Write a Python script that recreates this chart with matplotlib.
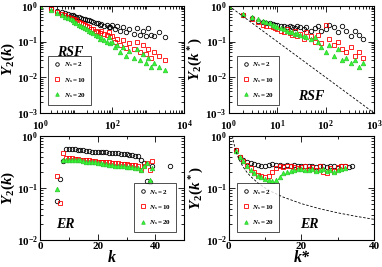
import matplotlib
matplotlib.use("Agg")
import matplotlib.pyplot as plt
from matplotlib.ticker import LogLocator, MultipleLocator, NullFormatter

plt.rcParams["font.family"] = "Liberation Serif"
plt.rcParams["font.weight"] = "bold"
plt.rcParams["mathtext.fontset"] = "custom"
plt.rcParams["mathtext.rm"] = "Liberation Serif:bold"
plt.rcParams["mathtext.it"] = "Liberation Serif:italic:bold"
plt.rcParams["mathtext.bf"] = "Liberation Serif:bold"

# --- RSF, Y2(k) ---
rsf_k = [1, 2, 3, 4, 5, 6, 7, 8, 9, 10, 12, 14, 16, 18, 20, 23, 26, 30, 35, 40,
         45, 50, 60, 70, 80, 90, 100, 120, 140, 170, 200, 250, 300, 400, 500,
         600, 700, 900, 1000, 1200, 1500, 2000, 3000]
rsf_k_n2 = [1.0, 0.85, 0.72, 0.66, 0.62, 0.6, 0.57, 0.55, 0.53, 0.5, 0.48, 0.46,
            0.44, 0.42, 0.41, 0.39, 0.38, 0.36, 0.34, 0.33, 0.3, 0.32, 0.28, 0.3,
            0.26, 0.25, 0.3, 0.22, 0.27, 0.2, 0.25, 0.18, 0.22, 0.16, 0.24, 0.15,
            0.2, 0.14, 0.24, 0.15, 0.14, 0.18, 0.13]
rsf_k_n10 = [1.0, 0.8, 0.68, 0.6, 0.55, 0.5, 0.47, 0.44, 0.42, 0.4, 0.36, 0.33,
             0.31, 0.29, 0.27, 0.25, 0.23, 0.22, 0.2, 0.19, 0.17, 0.2, 0.16, 0.15,
             0.18, 0.13, 0.14, 0.1, 0.12, 0.08, 0.11, 0.065, 0.09, 0.06, 0.1, 0.05,
             0.08, 0.045, 0.06, 0.035, 0.05, 0.04, 0.03]
rsf_k_n20 = [1.0, 0.78, 0.62, 0.55, 0.5, 0.45, 0.42, 0.39, 0.36, 0.34, 0.3, 0.28,
             0.26, 0.24, 0.22, 0.2, 0.18, 0.17, 0.15, 0.14, 0.12, 0.13, 0.11, 0.1,
             0.13, 0.09, 0.1, 0.07, 0.08, 0.05, 0.07, 0.04, 0.055, 0.035, 0.06,
             0.03, 0.045, 0.025, 0.035, 0.02, 0.025, 0.02, 0.016]

# --- RSF, Y2(k*) ---
rsf_ks = [1, 2, 3, 4, 5, 6, 7, 8, 9, 10, 12, 14, 16, 18, 20, 23, 26, 30, 35, 40,
          50, 60, 70, 80, 100, 120, 150, 180, 220, 270, 330, 400, 500, 600]
rsf_ks_n2 = [1.0, 0.55, 0.45, 0.38, 0.36, 0.34, 0.33, 0.32, 0.3, 0.3, 0.28, 0.27,
             0.26, 0.28, 0.25, 0.24, 0.27, 0.25, 0.22, 0.26, 0.2, 0.24, 0.28, 0.2,
             0.22, 0.3, 0.25, 0.18, 0.28, 0.2, 0.14, 0.2, 0.15, 0.12]
rsf_ks_n10 = [1.0, 0.55, 0.42, 0.35, 0.3, 0.28, 0.27, 0.25, 0.24, 0.22, 0.2, 0.18,
              0.22, 0.17, 0.15, 0.2, 0.14, 0.16, 0.12, 0.18, 0.14, 0.1, 0.15, 0.09,
              0.3, 0.12, 0.08, 0.1, 0.06, 0.05, 0.07, 0.04, 0.05, 0.035]
rsf_ks_n20 = [1.0, 0.6, 0.5, 0.42, 0.38, 0.35, 0.33, 0.3, 0.28, 0.26, 0.24, 0.22,
              0.2, 0.19, 0.18, 0.16, 0.17, 0.15, 0.14, 0.13, 0.12, 0.13, 0.1, 0.07,
              0.05, 0.08, 0.04, 0.06, 0.03, 0.035, 0.025, 0.03, 0.02, 0.025]
rsf_ref_x = [1, 1000]
rsf_ref_y = [1.0, 0.001]

# --- ER, Y2(k) ---
er_k = [6, 7, 8, 9, 10, 11, 12, 13, 14, 15, 16, 17, 18, 19, 20, 21, 22, 23, 24,
        25, 26, 27, 28, 29, 30, 31, 32, 33, 34, 35, 36, 37, 38, 39]
er_k_n2 = [0.057, 0.15, 0.33, 0.56, 0.57, 0.56, 0.55, 0.54, 0.53, 0.53, 0.52,
           0.51, 0.5, 0.5, 0.49, 0.49, 0.48, 0.48, 0.47, 0.47, 0.46, 0.46, 0.45,
           0.45, 0.44, 0.43, 0.43, 0.42, 0.42, 0.35, 0.3, 0.135, 0.13, 0.26]
er_k_n10 = [0.17, 0.052, 0.46, 0.38, 0.37, 0.37, 0.36, 0.36, 0.35, 0.35, 0.34,
            0.34, 0.33, 0.33, 0.32, 0.32, 0.32, 0.31, 0.31, 0.3, 0.3, 0.3, 0.29,
            0.29, 0.29, 0.28, 0.28, 0.28, 0.27, 0.22, 0.27, 0.3, 0.22, 0.33]
er_k_n20 = [0.095, None, 0.34, 0.35, 0.35, 0.35, 0.34, 0.34, 0.34, 0.33, 0.32,
            0.32, 0.31, 0.31, 0.3, 0.3, 0.29, 0.29, 0.28, 0.28, 0.27, 0.27, 0.26,
            0.26, 0.25, 0.25, 0.25, 0.24, 0.24, 0.22, 0.27, 0.3, 0.14, 0.24]
er_k_extra = [45]
er_k_extra_n2 = [0.26]

# --- ER, Y2(k*) ---
er_ks = [2, 3, 4, 5, 6, 7, 8, 9, 10, 11, 12, 13, 14, 15, 16, 17, 18, 19, 20, 21,
         22, 23, 24, 25, 26, 27, 28, 29, 30, 31, 32, 33, 34]
er_ks_n2 = [0.54, 0.4, 0.35, 0.32, 0.3, 0.29, 0.28, 0.27, 0.27, 0.28, 0.29, 0.28,
            0.28, 0.27, 0.28, 0.27, 0.28, 0.27, 0.26, 0.27, 0.27, 0.26, 0.25,
            0.27, 0.26, 0.25, 0.27, 0.26, 0.24, 0.27, 0.26, 0.25, 0.27]
er_ks_n10 = [0.54, 0.4, 0.33, 0.28, 0.24, 0.2, 0.18, 0.17, 0.165, 0.17, 0.2, 0.24,
             0.26, 0.25, 0.27, 0.26, 0.25, 0.24, 0.25, 0.26, 0.23, 0.25, 0.22,
             0.27, 0.2, 0.19, 0.24, 0.21, 0.25, 0.27, 0.26, None, None]
er_ks_n20 = [0.52, 0.4, 0.33, 0.27, 0.22, 0.19, 0.17, 0.16, 0.15, 0.14, 0.135,
             0.14, 0.16, 0.19, 0.2, 0.21, 0.22, 0.23, 0.23, 0.22, 0.22, 0.23,
             0.21, 0.22, 0.23, 0.21, 0.22, 0.2, 0.22, 0.23, 0.24, None, None]
er_ref_x = [1, 1.2, 1.5, 2, 2.5, 3, 4, 5, 6, 8, 10, 12, 15, 20, 25, 30, 35, 40]
er_ref_y = [1.0, 0.833, 0.667, 0.5, 0.4, 0.333, 0.25, 0.2, 0.167, 0.125, 0.1,
            0.0833, 0.0667, 0.05, 0.04, 0.0333, 0.0286, 0.025]

labels = [r"$N_s = 2$", r"$N_s = 10$", r"$N_s = 20$"]


def scatter3(ax, x, ys):
    styles = [
        dict(marker="o", mfc="none", mec="black"),
        dict(marker="s", mfc="none", mec="red"),
        dict(marker="^", mfc="#33ff33", mec="#33cc33"),
    ]
    for y, lab, st in zip(ys, labels, styles):
        pts = [(a, b) for a, b in zip(x, y) if b is not None]
        ax.plot([p[0] for p in pts], [p[1] for p in pts], linestyle="none",
                markersize=3.2, markeredgewidth=0.6, label=lab, **st)


def style(ax):
    ax.tick_params(which="both", direction="in", top=True, right=True,
                   labelsize=8, width=0.6)
    ax.tick_params(axis="x", pad=4)
    ax.tick_params(axis="y", pad=1.5)
    ax.tick_params(which="major", length=4)
    ax.tick_params(which="minor", length=2)
    for s in ax.spines.values():
        s.set_linewidth(0.8)


def legend(ax, loc):
    leg = ax.legend(loc=loc, fontsize=5, frameon=True, fancybox=False,
                    edgecolor="black", handletextpad=0.3, borderpad=0.7,
                    labelspacing=0.9, handlelength=1.2, borderaxespad=1.2,
                    markerscale=0.8)
    leg.get_frame().set_linewidth(0.6)


fig = plt.figure(figsize=(3.82, 2.67), dpi=100)
ax1 = fig.add_axes([0.105, 0.577, 0.377, 0.401])
ax2 = fig.add_axes([0.599, 0.577, 0.380, 0.401])
ax3 = fig.add_axes([0.105, 0.101, 0.377, 0.390])
ax4 = fig.add_axes([0.599, 0.101, 0.380, 0.390])

# top-left
scatter3(ax1, rsf_k, [rsf_k_n2, rsf_k_n10, rsf_k_n20])
ax1.set_xscale("log")
ax1.set_yscale("log")
ax1.set_xlim(1, 1e4)
ax1.set_ylim(1e-3, 1)
ax1.set_ylabel(r"$Y_2(k)$", fontsize=11, labelpad=0)
ax1.text(0.12, 0.53, "RSF", transform=ax1.transAxes, fontsize=10,
         fontstyle="italic", fontweight="bold")
legend(ax1, "lower left")

# top-right
scatter3(ax2, rsf_ks, [rsf_ks_n2, rsf_ks_n10, rsf_ks_n20])
ax2.plot(rsf_ref_x, rsf_ref_y, color="black", linestyle="--", linewidth=0.6,
         dashes=(3, 2))
ax2.set_xscale("log")
ax2.set_yscale("log")
ax2.set_xlim(1, 1e3)
ax2.set_ylim(1e-3, 1)
ax2.set_ylabel(r"$Y_2(k^*)$", fontsize=11, labelpad=0)
ax2.text(0.48, 0.12, "RSF", transform=ax2.transAxes, fontsize=10,
         fontstyle="italic", fontweight="bold")
legend(ax2, "lower left")

# bottom-left
scatter3(ax3, er_k, [er_k_n2, er_k_n10, er_k_n20])
ax3.plot(er_k_extra, er_k_extra_n2, linestyle="none", marker="o", mfc="none",
         mec="black", markersize=3.2, markeredgewidth=0.6)
ax3.set_yscale("log")
ax3.set_xlim(0, 50)
ax3.set_ylim(1e-2, 1)
ax3.xaxis.set_major_locator(MultipleLocator(20))
ax3.xaxis.set_minor_locator(MultipleLocator(10))
ax3.set_ylabel(r"$Y_2(k)$", fontsize=11, labelpad=0)
ax3.text(0.11, 0.12, "ER", transform=ax3.transAxes, fontsize=10,
         fontstyle="italic", fontweight="bold")
legend(ax3, "lower right")

# bottom-right
scatter3(ax4, er_ks, [er_ks_n2, er_ks_n10, er_ks_n20])
ax4.plot(er_ref_x, er_ref_y, color="black", linestyle="--", linewidth=0.6,
         dashes=(3, 2))
ax4.set_yscale("log")
ax4.set_xlim(0, 40)
ax4.set_ylim(1e-2, 1)
ax4.xaxis.set_major_locator(MultipleLocator(20))
ax4.xaxis.set_minor_locator(MultipleLocator(10))
ax4.set_ylabel(r"$Y_2(k^*)$", fontsize=11, labelpad=0)
ax4.text(0.49, 0.12, "ER", transform=ax4.transAxes, fontsize=10,
         fontstyle="italic", fontweight="bold")
legend(ax4, "lower left")

for ax in (ax1, ax2, ax3, ax4):
    style(ax)
    ax.yaxis.set_minor_locator(LogLocator(base=10, subs=range(2, 10), numticks=20))
    ax.yaxis.set_minor_formatter(NullFormatter())
for ax in (ax1, ax2):
    ax.xaxis.set_minor_locator(LogLocator(base=10, subs=range(2, 10), numticks=20))
    ax.xaxis.set_minor_formatter(NullFormatter())
for ax in (ax3, ax4):
    ax.tick_params(axis="x", pad=1.5)

# x labels of the bottom row sit just above the figure's lower edge
ax3.text(0.5, -0.248, "k", transform=ax3.transAxes, fontsize=11.5,
         fontstyle="italic", ha="center", va="bottom")
ax4.text(0.5, -0.248, "k*", transform=ax4.transAxes, fontsize=11.5,
         fontstyle="italic", ha="center", va="bottom")

fig.savefig("out.png", dpi=100)
